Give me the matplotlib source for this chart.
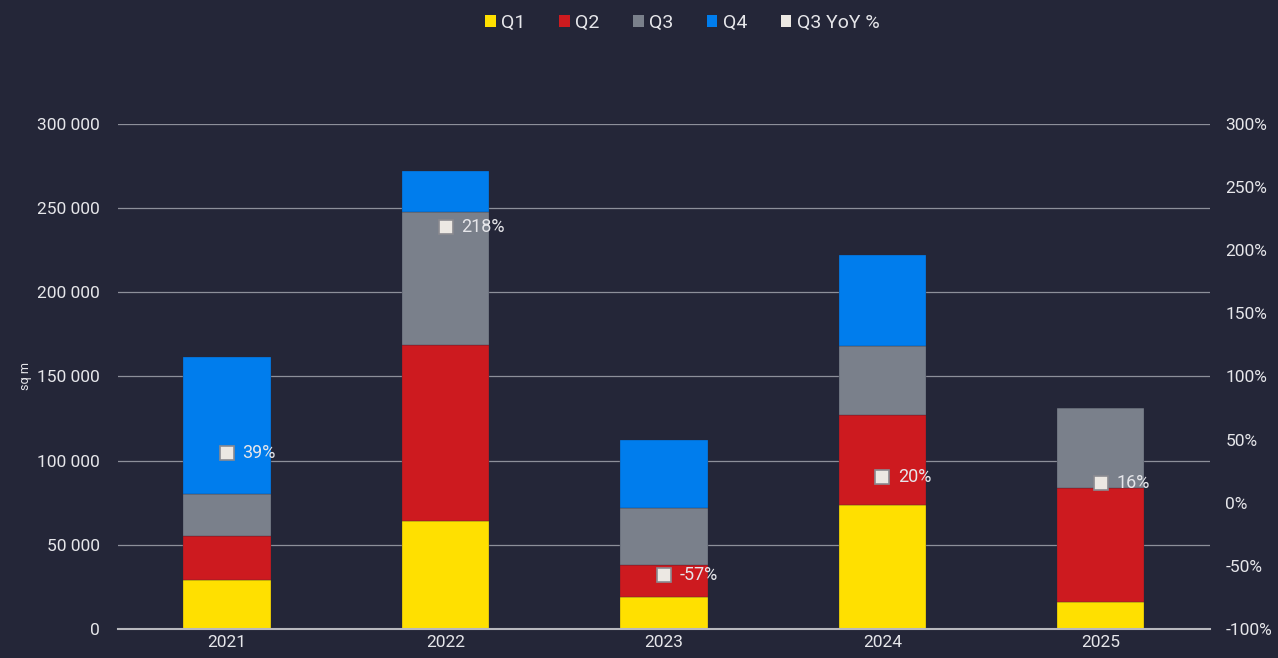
import numpy as np
import matplotlib.pyplot as plt
from matplotlib.ticker import FuncFormatter, MultipleLocator
from matplotlib.patches import Patch

plt.rcParams['font.family'] = ['Roboto', 'DejaVu Sans']

# data (sq m per quarter)
years = ["2021", "2022", "2023", "2024", "2025"]
q1 = [29000, 64000, 19000, 73700, 16000]
q2 = [26000, 104500, 19000, 53400, 67800]
q3 = [25000, 79000, 34000, 41000, 47500]
q4 = [81500, 24500, 40400, 54000, 0]
q3_yoy = [39, 218, -57, 20, 16]

BG = "#242638"
TXT = "#e6e6ea"
colors = {"Q1": "#ffe000", "Q2": "#cd1a1f", "Q3": "#7a808b", "Q4": "#007ded"}

fig = plt.figure(figsize=(12.78, 6.58), dpi=100, facecolor=BG)
ax = fig.add_axes([0.0923, 0.0441, 0.8545, 0.7675])
ax.set_facecolor(BG)

x = np.arange(len(years))
w = 0.4
bottom = np.zeros(len(years))
for name, vals in [("Q1", q1), ("Q2", q2), ("Q3", q3), ("Q4", q4)]:
    vals = np.array(vals, dtype=float)
    ax.bar(x, vals, w, bottom=bottom, color=colors[name], zorder=2,
           edgecolor=BG, linewidth=0.2)
    bottom += vals

ax.set_xlim(-0.5, len(years) - 0.5)
ax.set_ylim(0, 300000)
ax.yaxis.set_major_locator(MultipleLocator(50000))
ax.yaxis.set_major_formatter(FuncFormatter(lambda v, p: f"{int(v):,}".replace(",", " ")))
ax.grid(axis="y", color="#8d8f9a", linewidth=0.9, zorder=0)
ax.set_xticks(x)
ax.set_xticklabels(years)
ax.tick_params(axis="both", length=0, colors=TXT, labelsize=12.5)
ax.tick_params(axis="y", pad=13)
ax.tick_params(axis="x", pad=4)
for s in ["top", "right", "left"]:
    ax.spines[s].set_visible(False)
ax.spines["bottom"].set_color("#b8b8be")
ax.spines["bottom"].set_linewidth(1.5)
ax.spines["bottom"].set_zorder(3)
ax.set_ylabel("sq m", color=TXT, fontsize=9, labelpad=4)

# secondary axis for YoY %
ax2 = ax.twinx()
ax2.set_ylim(-100, 300)
ax2.yaxis.set_major_locator(MultipleLocator(50))
ax2.yaxis.set_major_formatter(FuncFormatter(lambda v, p: f"{int(v)}%"))
ax2.tick_params(axis="y", length=0, colors=TXT, labelsize=12.5, pad=11)
for s in ax2.spines.values():
    s.set_visible(False)
ax2.plot(x, q3_yoy, linestyle="none", marker="s", markersize=10,
         markerfacecolor="#ece8e3", markeredgecolor="#8a8a90", markeredgewidth=1.2, zorder=4)
for xi, v in zip(x, q3_yoy):
    ax2.annotate(f"{v}%", (xi, v), xytext=(11, 0), textcoords="offset points",
                 color=TXT, fontsize=13, va="center", ha="left")

handles = [Patch(facecolor=colors[k], edgecolor="none") for k in ["Q1", "Q2", "Q3", "Q4"]]
handles.append(Patch(facecolor="#ece8e3", edgecolor="none"))
labels = ["Q1", "Q2", "Q3", "Q4", "Q3 YoY %"]
leg = fig.legend(handles, labels, loc="upper center", bbox_to_anchor=(0.534, 1.005), ncol=5,
                 frameon=False, fontsize=14, labelcolor=TXT, handlelength=0.55,
                 handleheight=0.55, handletextpad=0.3, columnspacing=1.7)

fig.savefig("out.png", dpi=100, facecolor=BG)
